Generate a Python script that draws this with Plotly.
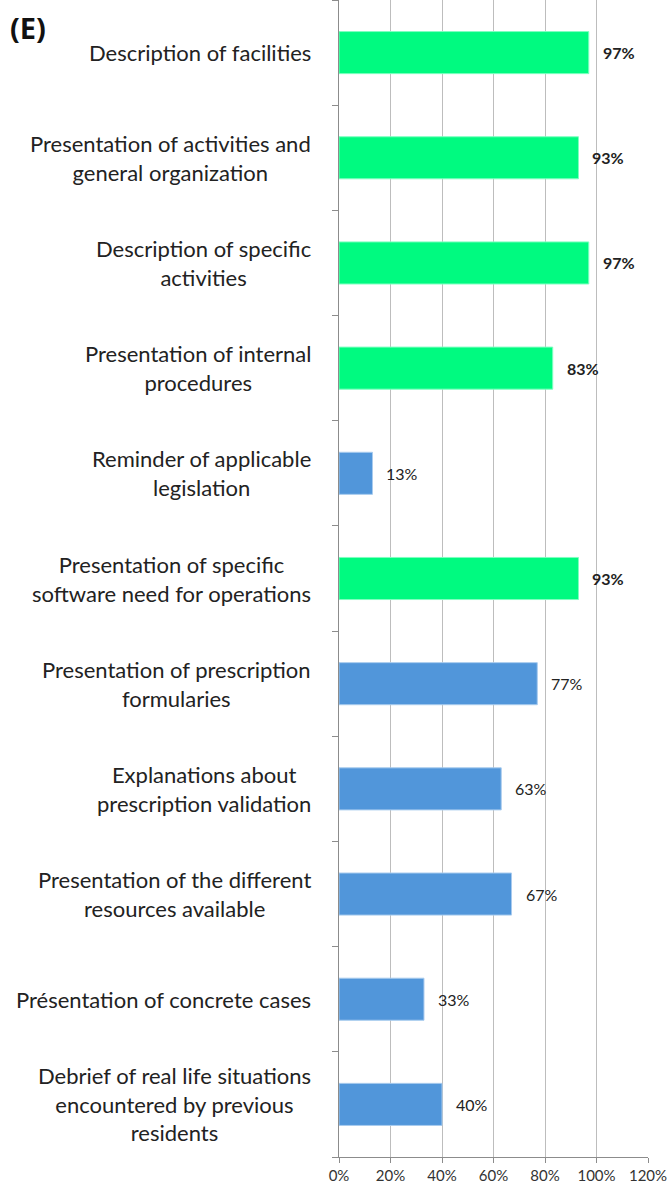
import plotly.graph_objects as go

categories = [
    "Description of facilities",
    "Presentation of activities and<br>general organization",
    "Description of specific<br>activities",
    "Presentation of internal<br>procedures",
    "Reminder of applicable<br>legislation",
    "Presentation of specific<br>software need for operations",
    "Presentation of prescription<br>formularies",
    "Explanations about<br>prescription validation",
    "Presentation of the different<br>resources available",
    "Présentation of concrete cases",
    "Debrief of real life situations<br>encountered by previous<br>residents",
]
values = [0.97, 0.93, 0.97, 0.83, 0.13, 0.93, 0.77, 0.63, 0.67, 0.33, 0.40]
highlight = [True, True, True, True, False, True, False, False, False, False, False]
x_ticks = [0, 0.2, 0.4, 0.6, 0.8, 1.0, 1.2]
x_tick_labels = ["0%", "20%", "40%", "60%", "80%", "100%", "120%"]

GREEN = "#00FA80"
BLUE = "#5196DA"
colors = [GREEN if h else BLUE for h in highlight]
lines = ["#7FFFC0" if h else "#A8CBEE" for h in highlight]

ids = list(range(len(categories)))

fig = go.Figure()
fig.add_trace(go.Bar(
    y=ids, x=values, orientation="h",
    marker=dict(color=colors, line=dict(color=lines, width=1)),
    width=0.4, hoverinfo="skip",
))

annotations = []
for i, (c, v, h) in enumerate(zip(categories, values, highlight)):
    txt = f"{round(v*100)}%"
    annotations.append(dict(
        x=v, y=i, xref="x", yref="y", text=f"<b>{txt}</b>" if h else txt,
        showarrow=False, xanchor="left", xshift=12,
        font=dict(family="Lato", size=16, color="#222"),
    ))
    annotations.append(dict(
        x=0, y=i, xref="paper", yref="y", text=c, align="center",
        showarrow=False, xanchor="right", xshift=-26,
        font=dict(family="Lato", size=22, color="#222"),
    ))
annotations.append(dict(
    x=0, y=1, xref="paper", yref="paper", text="<b>(E)</b>",
    showarrow=False, xanchor="left", yanchor="top", xshift=-331, yshift=-6,
    font=dict(family="Open Sans", size=29, color="#111"),
))

fig.update_layout(
    width=672, height=1191,
    margin=dict(l=339, r=24, t=0, b=34),
    plot_bgcolor="white", paper_bgcolor="white",
    showlegend=False,
    annotations=annotations,
    xaxis=dict(
        range=[0, 1.2], tickvals=x_ticks, ticktext=x_tick_labels,
        showgrid=True, gridcolor="#BDBDBD", gridwidth=1,
        showline=True, linecolor="#8C8C8C", linewidth=1,
        ticks="outside", ticklen=5, tickcolor="#8C8C8C",
        tickfont=dict(family="Lato", size=15, color="#333"),
        zeroline=False, fixedrange=True, automargin=False,
    ),
    yaxis=dict(
        type="category", tickmode="array", tickvals=ids, ticktext=[""] * len(ids),
        range=[len(ids) - 0.5, -0.5],
        showline=True, linecolor="#8C8C8C", linewidth=1,
        ticks="outside", ticklen=6, tickcolor="#8C8C8C", tickson="boundaries",
        showgrid=False, zeroline=False, automargin=False, fixedrange=True,
    ),
    bargap=0.6,
)

fig.write_html("out.html", config={"displayModeBar": False},
               post_script="document.body.style.margin='0';")
